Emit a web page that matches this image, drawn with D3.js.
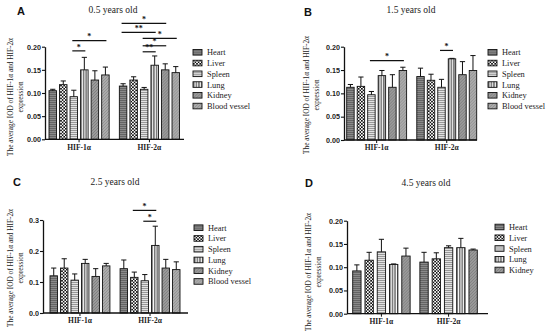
<!DOCTYPE html>
<html>
<head>
<meta charset="utf-8">
<script src="https://cdn.jsdelivr.net/npm/d3@7"></script>
<style>
  body { margin: 0; background: #fff; }
  svg { display: block; }
</style>
</head>
<body>
<script>
// data
let groups = ['HIF-1α', 'HIF-2α'];
let tissues = ['Heart', 'Liver', 'Spleen', 'Lung', 'Kidney', 'Blood vessel'];
let tissues_d = ['Heart', 'Liver', 'Spleen', 'Lung', 'Kidney'];
let titles = ['0.5 years old', '1.5 years old', '2.5 years old', '4.5 years old'];
let letters = ['A', 'B', 'C', 'D'];

let mean_a = [[0.105, 0.118, 0.092, 0.150, 0.128, 0.139], [0.115, 0.128, 0.108, 0.160, 0.150, 0.144]];
let err_a  = [[0.003, 0.008, 0.014, 0.027, 0.020, 0.017], [0.005, 0.007, 0.004, 0.020, 0.013, 0.013]];
let mean_b = [[0.113, 0.115, 0.097, 0.138, 0.113, 0.149], [0.136, 0.128, 0.113, 0.174, 0.140, 0.149]];
let err_b  = [[0.006, 0.020, 0.007, 0.011, 0.027, 0.007], [0.018, 0.013, 0.017, 0.001, 0.028, 0.032]];
let mean_c = [[0.120, 0.145, 0.106, 0.160, 0.118, 0.152], [0.143, 0.115, 0.104, 0.218, 0.145, 0.140]];
let err_c  = [[0.025, 0.030, 0.020, 0.013, 0.025, 0.008], [0.028, 0.017, 0.020, 0.062, 0.028, 0.025]];
let mean_d = [[0.092, 0.115, 0.133, 0.106, 0.124], [0.111, 0.118, 0.142, 0.142, 0.137]];
let err_d  = [[0.013, 0.017, 0.027, 0.001, 0.017], [0.021, 0.013, 0.004, 0.020, 0.002]];

let ticks_small = [0, 0.05, 0.10, 0.15, 0.20];
let ticks_c = [0, 0.1, 0.2, 0.3];

// significance bars: group, from, to, height (in data units), label
let sig_a = [
    [0, 'Spleen', 'Lung', 0.191, '*'],
    [0, 'Spleen', 'Blood vessel', 0.213, '*'],
    [1, 'Heart', 'Kidney', 0.2505, '*'],
    [1, 'Heart', 'Lung', 0.231, '**'],
    [1, 'Spleen', 'Blood vessel', 0.218, '*'],
    [1, 'Spleen', 'Kidney', 0.202, '*'],
    [1, 'Spleen', 'Lung', 0.189, '**']
];
let sig_b = [
    [0, 'Spleen', 'Blood vessel', 0.170, '*'],
    [1, 'Spleen', 'Lung', 0.192, '*']
];
let sig_c = [
    [1, 'Liver', 'Lung', 0.331, '*'],
    [1, 'Spleen', 'Lung', 0.296, '*']
];
let sig_d = [];

// layout of the four panels
let panels = [
    { mean: mean_a, err: err_a, sig: sig_a, cats: tissues, ticks: ticks_small, fmt: '.2f',
      left: 45, right: 184, top: 46.7, bottom: 139.3, bars: [49, 179.5],
      legX: 193, legY: 52.3, titleX: 113, titleY: 13, letX: 17, letY: 15, labX: 13, labY: 97 },
    { mean: mean_b, err: err_b, sig: sig_b, cats: tissues, ticks: ticks_small, fmt: '.2f',
      left: 344, right: 477, top: 46.7, bottom: 140, bars: [346.7, 476.7],
      legX: 488, legY: 52.3, titleX: 411, titleY: 13, letX: 304, letY: 16, labX: 309, labY: 95 },
    { mean: mean_c, err: err_c, sig: sig_c, cats: tissues, ticks: ticks_c, fmt: '.1f',
      left: 43, right: 188, top: 220, bottom: 313, bars: [50, 180],
      legX: 194, legY: 227.7, titleX: 115, titleY: 185, letX: 13, letY: 186, labX: 13, labY: 268 },
    { mean: mean_d, err: err_d, sig: sig_d, cats: tissues_d, ticks: ticks_small, fmt: '.2f',
      left: 347, right: 488, top: 220.7, bottom: 313.7, bars: [352.7, 477.3],
      legX: 495, legY: 227, titleX: 426, titleY: 186, letX: 305, letY: 187, labX: 311, labY: 272 }
];

let svg = d3.select('body')
    .append('svg')
    .attr('width', 550)
    .attr('height', 336);

// fill patterns
let defs = svg.append('defs');

function stripes(id, bg, fg, size, lines) {
    let p = defs.append('pattern')
        .attr('id', id)
        .attr('patternUnits', 'userSpaceOnUse')
        .attr('width', size)
        .attr('height', size);
    p.append('rect').attr('width', size).attr('height', size).attr('fill', bg);
    lines.forEach(function(l) {
        p.append('line')
            .attr('x1', l[0]).attr('y1', l[1]).attr('x2', l[2]).attr('y2', l[3])
            .attr('stroke', fg).attr('stroke-width', l[4]);
    });
}
stripes('p0', '#8a8a8a', '#555', 2, [[0, 0.5, 2, 0.5, 0.7]]);
stripes('p2', '#e2e2e2', '#666', 2, [[0, 0.5, 2, 0.5, 0.6]]);
stripes('p3', '#fff', '#222', 2.6, [[0.8, 0, 0.8, 2.6, 1]]);
stripes('p4', '#9a9a9a', '#7a7a7a', 3, [[0, 3, 3, 0, 0.8], [-1, 1, 1, -1, 0.8], [2, 4, 4, 2, 0.8]]);
stripes('p5', '#ababab', '#8d8d8d', 3, [[0, 3, 3, 0, 0.8], [-1, 1, 1, -1, 0.8], [2, 4, 4, 2, 0.8]]);

let chk = defs.append('pattern')
    .attr('id', 'p1')
    .attr('patternUnits', 'userSpaceOnUse')
    .attr('width', 3.2)
    .attr('height', 3.2);
chk.append('rect').attr('width', 3.2).attr('height', 3.2).attr('fill', '#fff');
chk.append('rect').attr('width', 1.6).attr('height', 1.6).attr('fill', '#111');
chk.append('rect').attr('x', 1.6).attr('y', 1.6).attr('width', 1.6).attr('height', 1.6).attr('fill', '#111');

let fills = { 'Heart': 'url(#p0)', 'Liver': 'url(#p1)', 'Spleen': 'url(#p2)',
              'Lung': 'url(#p3)', 'Kidney': 'url(#p4)', 'Blood vessel': 'url(#p5)' };

let serif = 'Liberation Serif, Times New Roman, serif';
let sans = 'Liberation Sans, Arial, sans-serif';

panels.forEach(function(p, pi) {
    let g = svg.append('g');

    let y_scale = d3.scaleLinear()
        .domain([0, d3.max(p.ticks)])
        .range([p.bottom, p.top]);

    let x0 = d3.scaleBand()
        .domain(groups)
        .range(p.bars)
        .paddingInner(0.145)
        .paddingOuter(0);

    let x1 = d3.scaleBand()
        .domain(p.cats)
        .range([0, x0.bandwidth()])
        .paddingInner(p.cats.length === 6 ? 0.29 : 0.32)
        .paddingOuter(0);

    // bars
    groups.forEach(function(grp, gi) {
        let rows = p.cats.map(function(c, ci) {
            return { cat: c, v: p.mean[gi][ci], e: p.err[gi][ci] };
        });
        let gg = g.append('g').attr('transform', 'translate(' + x0(grp) + ',0)');

        gg.selectAll('rect')
            .data(rows)
            .enter()
            .append('rect')
            .attr('x', function(d) { return x1(d.cat); })
            .attr('y', function(d) { return y_scale(d.v); })
            .attr('width', x1.bandwidth())
            .attr('height', function(d) { return p.bottom - y_scale(d.v); })
            .attr('fill', function(d) { return fills[d.cat]; })
            .attr('stroke', '#111')
            .attr('stroke-width', 0.9);

        // upper error whiskers
        gg.selectAll('.err')
            .data(rows)
            .enter()
            .append('path')
            .attr('class', 'err')
            .attr('d', function(d) {
                let cx = x1(d.cat) + x1.bandwidth() / 2;
                let y0 = y_scale(d.v), y1 = y_scale(d.v + d.e);
                return 'M' + cx + ',' + y0 + 'V' + y1 + 'M' + (cx - 2.6) + ',' + y1 + 'H' + (cx + 2.6);
            })
            .attr('fill', 'none')
            .attr('stroke', '#111')
            .attr('stroke-width', 1);
    });

    // y axis
    let y_axis = d3.axisLeft(y_scale)
        .tickValues(p.ticks)
        .tickFormat(d3.format(p.fmt))
        .tickSize(3)
        .tickSizeOuter(0);
    let ya = g.append('g')
        .attr('transform', 'translate(' + p.left + ',0)')
        .call(y_axis);
    ya.select('.domain').attr('stroke-width', 1.3).attr('stroke', '#111');
    ya.selectAll('.tick line').attr('stroke-width', 1.1).attr('stroke', '#111');
    ya.selectAll('.tick text')
        .attr('font-family', sans)
        .attr('font-weight', 'bold')
        .attr('font-size', 7.2)
        .attr('fill', '#222')
        .attr('x', -4);

    // x axis
    let x_axis = d3.axisBottom(x0).tickSize(3).tickSizeOuter(0);
    let xa = g.append('g')
        .attr('transform', 'translate(0,' + p.bottom + ')')
        .call(x_axis);
    xa.select('.domain').remove();
    xa.append('line')
        .attr('x1', p.left).attr('x2', p.right)
        .attr('stroke', '#111').attr('stroke-width', 1.3);
    xa.selectAll('.tick line').attr('stroke-width', 1).attr('stroke', '#111');
    xa.selectAll('.tick text')
        .attr('font-family', serif)
        .attr('font-weight', 'bold')
        .attr('font-size', 7.5)
        .attr('fill', '#222')
        .attr('y', 5);

    // significance lines
    p.sig.forEach(function(s) {
        let xa0 = x0(groups[s[0]]) + x1(s[1]) + x1.bandwidth() / 2 - 1.5;
        let xb0 = x0(groups[s[0]]) + x1(s[2]) + x1.bandwidth() / 2 + 1;
        let yy = y_scale(s[3]);
        g.append('line')
            .attr('x1', xa0).attr('x2', xb0)
            .attr('y1', yy).attr('y2', yy)
            .attr('stroke', '#111').attr('stroke-width', 1.2);
        g.append('text')
            .attr('x', (xa0 + xb0) / 2)
            .attr('y', yy - 1.3)
            .attr('text-anchor', 'middle')
            .attr('font-family', serif)
            .attr('font-weight', 'bold')
            .attr('font-size', 8)
            .attr('fill', '#111')
            .text(s[4]);
    });

    // legend
    let leg = g.append('g').attr('transform', 'translate(' + p.legX + ',' + p.legY + ')');
    p.cats.forEach(function(c, ci) {
        let row = leg.append('g').attr('transform', 'translate(0,' + (ci * 10.75) + ')');
        row.append('rect')
            .attr('x', 0).attr('y', -2.8)
            .attr('width', 9).attr('height', 5.6)
            .attr('fill', fills[c])
            .attr('stroke', '#111').attr('stroke-width', 0.9);
        row.append('text')
            .attr('x', 14).attr('y', 3)
            .attr('font-family', serif)
            .attr('font-size', 8.4)
            .attr('fill', '#222')
            .text(c);
    });

    // title, panel letter, y label
    g.append('text')
        .attr('x', p.titleX).attr('y', p.titleY)
        .attr('text-anchor', 'middle')
        .attr('font-family', serif)
        .attr('font-size', 9.5)
        .attr('fill', '#222')
        .text(titles[pi]);

    g.append('text')
        .attr('x', p.letX).attr('y', p.letY)
        .attr('font-family', sans)
        .attr('font-weight', 'bold')
        .attr('font-size', 11)
        .attr('fill', '#111')
        .text(letters[pi]);

    let lab = g.append('text')
        .attr('transform', 'translate(' + p.labX + ',' + p.labY + ') rotate(-90)')
        .attr('text-anchor', 'middle')
        .attr('font-family', serif)
        .attr('font-size', 7.3)
        .attr('fill', '#222');
    lab.append('tspan').attr('x', 0).attr('dy', 0).text('The average IOD of HIF-1α and HIF-2α');
    lab.append('tspan').attr('x', 0).attr('dy', 9.5).text('expression');
});
</script>
</body>
</html>
